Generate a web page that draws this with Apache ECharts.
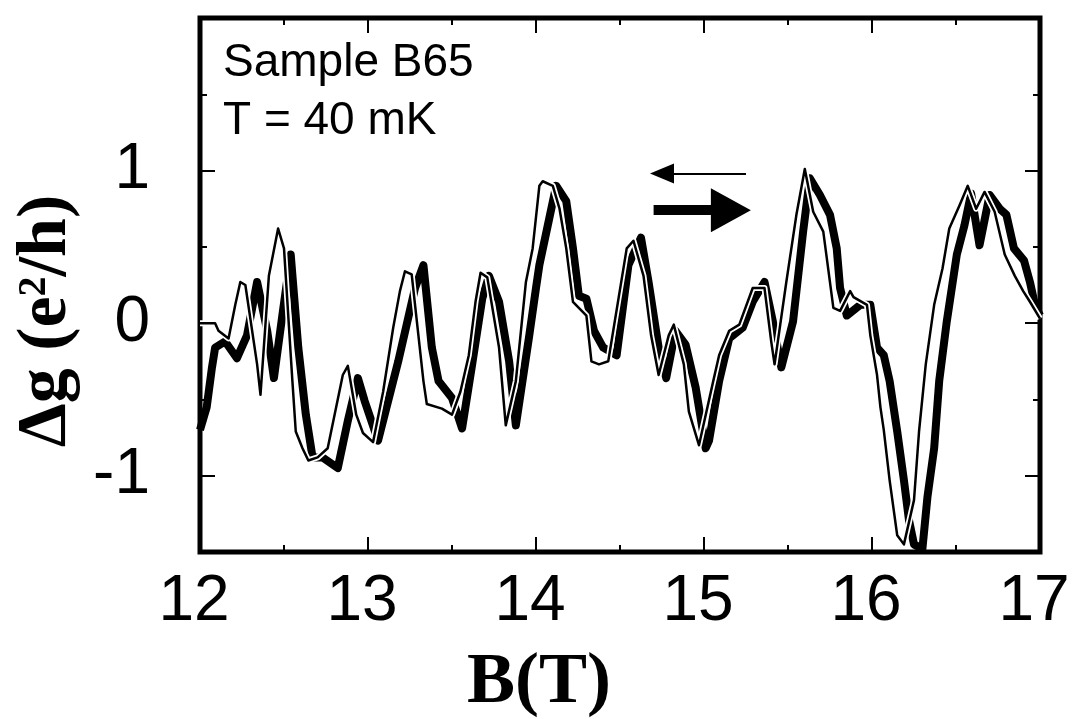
<!DOCTYPE html>
<html>
<head>
<meta charset="utf-8">
<script src="https://cdn.jsdelivr.net/npm/echarts@6.0.0/dist/echarts.min.js"></script>
<style>
html, body { margin: 0; padding: 0; background: #fff; }
#main { width: 1081px; height: 719px; }
</style>
</head>
<body>
<div id="main"></div>
<script>
// field sweep up (thick line, arrow to the right): [B (T), dg (e^2/h)]
var sweepUp = [
  [12.00,-0.70],[12.04,-0.55],[12.07,-0.30],[12.09,-0.16],[12.15,-0.12],[12.22,-0.23],[12.28,-0.08],
  [12.34,0.27],[12.40,-0.05],[12.44,-0.36],[12.49,0.05],[12.54,0.45],[12.585,-0.16],[12.63,-0.60],
  [12.67,-0.88],[12.73,-0.88],[12.82,-0.95],[12.88,-0.64],[12.94,-0.36],[12.98,-0.51],[13.06,-0.77],
  [13.18,-0.25],[13.28,0.23],[13.33,0.38],[13.38,-0.16],[13.42,-0.38],[13.50,-0.49],[13.56,-0.69],
  [13.62,-0.27],[13.68,0.16],[13.72,0.31],[13.78,0.14],[13.84,-0.25],[13.88,-0.67],[13.96,-0.08],
  [14.00,0.23],[14.02,0.38],[14.12,0.90],[14.18,0.80],[14.22,0.49],[14.255,0.18],[14.30,0.16],
  [14.345,-0.05],[14.40,-0.16],[14.48,-0.21],[14.55,0.38],[14.625,0.56],[14.67,0.27],[14.73,-0.16],
  [14.775,-0.36],[14.83,-0.05],[14.89,-0.14],[14.95,-0.42],[15.01,-0.82],[15.03,-0.77],[15.09,-0.38],
  [15.15,-0.10],[15.23,-0.03],[15.29,0.14],[15.36,0.27],[15.41,0.01],[15.46,-0.29],[15.53,0.01],
  [15.59,0.60],[15.63,0.95],[15.69,0.84],[15.75,0.71],[15.79,0.49],[15.81,0.23],[15.85,0.05],
  [15.93,0.12],[15.99,0.12],[16.03,-0.16],[16.07,-0.21],[16.105,-0.38],[16.15,-0.71],[16.19,-1.03],
  [16.22,-1.29],[16.25,-1.45],[16.30,-1.48],[16.33,-1.14],[16.37,-0.82],[16.40,-0.38],[16.445,0.01],
  [16.505,0.45],[16.55,0.64],[16.59,0.85],[16.64,0.51],[16.70,0.84],[16.76,0.75],[16.80,0.71],
  [16.845,0.49],[16.905,0.41],[16.94,0.27],[16.97,0.12],[17.00,0.05]
];

// field sweep down (thin line, arrow to the left)
var sweepDown = [
  [12.00,0.00],[12.09,0.00],[12.11,-0.05],[12.17,-0.10],[12.21,0.12],[12.24,0.27],[12.27,0.25],
  [12.34,-0.27],[12.36,-0.47],[12.41,0.31],[12.465,0.62],[12.50,0.49],[12.55,-0.38],[12.57,-0.71],
  [12.61,-0.82],[12.645,-0.90],[12.70,-0.88],[12.76,-0.82],[12.85,-0.34],[12.88,-0.28],[12.93,-0.60],
  [12.97,-0.72],[13.03,-0.78],[13.09,-0.45],[13.15,-0.03],[13.19,0.21],[13.22,0.34],[13.26,0.32],
  [13.30,-0.08],[13.33,-0.38],[13.35,-0.53],[13.44,-0.56],[13.50,-0.60],[13.55,-0.45],[13.60,-0.21],
  [13.64,0.14],[13.67,0.33],[13.71,0.30],[13.78,-0.16],[13.82,-0.67],[13.88,-0.38],[13.94,0.27],
  [13.98,0.49],[14.02,0.90],[14.04,0.93],[14.10,0.90],[14.14,0.75],[14.18,0.49],[14.22,0.14],
  [14.30,0.05],[14.33,-0.25],[14.375,-0.27],[14.43,-0.25],[14.54,0.49],[14.58,0.54],[14.64,0.31],
  [14.685,-0.08],[14.73,-0.34],[14.79,-0.08],[14.82,-0.01],[14.88,-0.27],[14.91,-0.58],[14.97,-0.80],
  [15.055,-0.38],[15.09,-0.21],[15.15,-0.05],[15.21,-0.01],[15.29,0.23],[15.36,0.23],[15.40,-0.12],
  [15.42,-0.27],[15.49,0.27],[15.55,0.71],[15.60,1.01],[15.65,0.73],[15.71,0.60],[15.77,0.10],
  [15.81,0.08],[15.87,0.21],[15.89,0.17],[15.97,0.12],[15.99,-0.08],[16.03,-0.34],[16.05,-0.55],
  [16.07,-0.70],[16.105,-1.03],[16.15,-1.39],[16.19,-1.45],[16.25,-1.16],[16.28,-0.71],[16.32,-0.27],
  [16.37,0.12],[16.42,0.36],[16.46,0.62],[16.52,0.77],[16.57,0.90],[16.62,0.75],[16.67,0.86],
  [16.73,0.73],[16.79,0.45],[16.85,0.31],[16.90,0.21],[16.94,0.14],[17.00,0.03]
];

var yTickValues = [-1, 0, 1];
var bRange = [12, 17];
var gRange = [-1.5, 2];
// sweep direction arrows: [fromB, toB, dg]
var arrowDown = [15.25, 14.75, 0.98];
var arrowUp = [14.70, 15.16, 0.74];

var sans = '"Liberation Sans", Arial, sans-serif';
var serif = '"Liberation Serif", "Times New Roman", serif';
var tickLine = { color: '#000', width: 2 };

var myChart = echarts.init(document.getElementById('main'));

function xAxisAt(pos, withLabels) {
  var ax = {
    type: 'value', position: pos, min: bRange[0], max: bRange[1], interval: 1,
    axisLine: { show: false, onZero: false },
    axisTick: { show: true, inside: true, length: 15, lineStyle: tickLine },
    minorTick: { show: true, splitNumber: 2, length: 7, lineStyle: tickLine },
    splitLine: { show: false }, minorSplitLine: { show: false },
    axisLabel: { show: withLabels, fontSize: 64, fontFamily: sans, color: '#000', margin: 18, padding: [0, 12, 0, 0] }
  };
  if (withLabels) {
    ax.name = 'B(T)';
    ax.nameLocation = 'middle';
    ax.nameGap = 95;
    ax.nameTextStyle = { fontFamily: serif, fontWeight: 'bold', fontSize: 72, color: '#000', padding: [0, 162, 0, 0] };
  }
  return ax;
}

function yAxisAt(pos, major, withLabels) {
  var ax = {
    type: 'value', position: pos, min: gRange[0], max: gRange[1],
    axisLine: { show: false, onZero: false },
    splitLine: { show: false },
    axisLabel: { show: false }
  };
  if (major) {
    ax.axisTick = { show: true, inside: true, length: 15, lineStyle: tickLine, customValues: yTickValues };
    if (withLabels) {
      ax.axisLabel = { show: true, customValues: yTickValues, fontSize: 64, fontFamily: sans, color: '#000', margin: 50 };
      ax.name = 'Δg (e{sup|2}/h)';
      ax.nameLocation = 'middle';
      ax.nameGap = 106;
      ax.nameTextStyle = {
        fontFamily: serif, fontWeight: 'bold', fontSize: 70, color: '#000',
        padding: [0, 72, 0, 0],
        rich: { sup: { fontFamily: serif, fontWeight: 'bold', fontSize: 40, color: '#000', padding: [0, 0, 26, 0] } }
      };
    }
  } else {
    ax.interval = 0.5;
    ax.axisTick = { show: true, inside: true, length: 7, lineStyle: tickLine };
  }
  return ax;
}

var option = {
  animation: false,
  backgroundColor: '#fff',
  grid: {
    left: 200, right: 41, top: 18, bottom: 167,
    show: true, borderColor: '#000', borderWidth: 5, backgroundColor: 'transparent',
    outerBoundsMode: 'none'
  },
  xAxis: [xAxisAt('bottom', true), xAxisAt('top', false)],
  yAxis: [yAxisAt('left', false), yAxisAt('left', true, true), yAxisAt('right', false), yAxisAt('right', true, false)],
  graphic: [{
    type: 'text', left: 223, top: 34,
    style: { text: 'Sample B65\nT = 40 mK', font: '46px "Liberation Sans", Arial, sans-serif', fill: '#000', lineHeight: 58 }
  }],
  series: [
    {
      type: 'line', data: sweepUp, symbol: 'none', z: 2,
      lineStyle: { color: '#000', width: 8, join: 'round' },
      markLine: {
        silent: true, animation: false, label: { show: false },
        symbol: ['none', 'triangle'],
        data: [
          [
            { coord: [arrowDown[0], arrowDown[2]], symbol: 'none', lineStyle: { color: '#000', width: 2, type: 'solid' } },
            { coord: [arrowDown[1], arrowDown[2]], symbol: 'triangle', symbolSize: [20, 24] }
          ],
          [
            { coord: [arrowUp[0], arrowUp[2]], symbol: 'none', lineStyle: { color: '#000', width: 10, type: 'solid' } },
            { coord: [arrowUp[1], arrowUp[2]], symbol: 'triangle', symbolSize: [44, 40] }
          ]
        ]
      }
    },
    {
      type: 'line', data: sweepDown, symbol: 'none', z: 3,
      lineStyle: { color: '#fff', width: 6, join: 'round' }
    },
    {
      type: 'line', data: sweepDown, symbol: 'none', z: 4,
      lineStyle: { color: '#000', width: 2.5, join: 'round' }
    }
  ]
};
myChart.setOption(option);
</script>
</body>
</html>
